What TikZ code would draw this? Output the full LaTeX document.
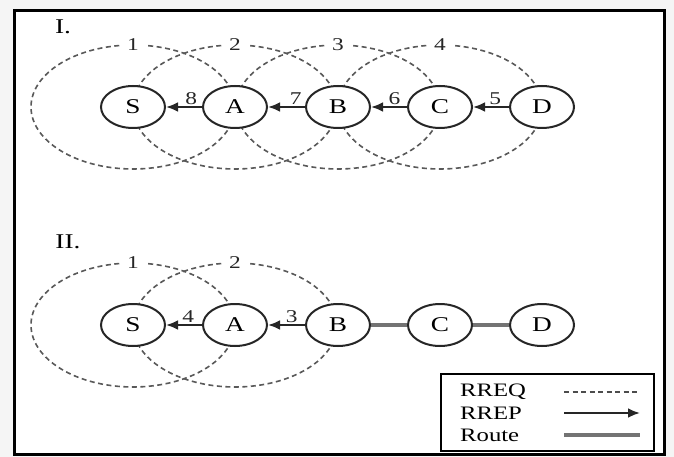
\documentclass[tikz,border=0pt]{standalone}
\usepackage{fontspec}
\setmainfont{Liberation Serif}[FakeStretch=1.3]
\usetikzlibrary{shapes.geometric,arrows.meta,backgrounds}
\begin{document}
\begin{tikzpicture}[x=1pt,y=-1pt,
  nd/.style={ellipse,draw=black!85,line width=2pt,fill=white,minimum width=64pt,minimum height=42pt,inner sep=0pt,font=\fontsize{21}{21}\selectfont},
  rng/.style={draw=black!65,line width=1.6pt,dash pattern=on 5pt off 3.5pt},
  rnglab/.style={fill=white,inner xsep=6pt,inner ysep=1pt,font=\fontsize{18}{18}\selectfont,text=black!85},
  rrep/.style={draw=black!85,line width=2.6pt,-{Latex[length=12pt,width=10pt]}},
  num/.style={font=\fontsize{18}{18}\selectfont,inner sep=1pt,text=black!85},
  route/.style={draw=black!55,line width=3.2pt},
  sec/.style={font=\fontsize{21}{21}\selectfont},
  legtxt/.style={font=\fontsize{19}{19}\selectfont,anchor=west,inner sep=0pt},
  legbox/.style={draw,line width=2.2pt,minimum width=213pt,minimum height=77pt,anchor=north west,inner sep=0pt},
  frame/.style={draw,line width=2.8pt,minimum width=650pt,minimum height=444pt,anchor=north west,inner sep=0pt}
]
\useasboundingbox (0,0) rectangle (674,457);

\node[frame] (fr) at (13,9) {};

% ---------- Part I ----------
\node[sec] (secI) at (63,27) {I.};
\node[nd] (S1) at (133,107) {S};
\node[nd] (A1) at (235,107) {A};
\node[nd] (B1) at (338,107) {B};
\node[nd] (C1) at (440,107) {C};
\node[nd] (D1) at (542,107) {D};

\node[rnglab] (r1) at (133,45) {1};
\node[rnglab] (r2) at (235,45) {2};
\node[rnglab] (r3) at (338,45) {3};
\node[rnglab] (r4) at (440,45) {4};

\draw[rrep] (A1) -- (S1) node[num,above,pos=0.3] (n8) {8};
\draw[rrep] (B1) -- (A1) node[num,above,pos=0.25] (n7) {7};
\draw[rrep] (C1) -- (B1) node[num,above,pos=0.35] (n6) {6};
\draw[rrep] (D1) -- (C1) node[num,above,pos=0.38] (n5) {5};

% ---------- Part II ----------
\node[sec] (secII) at (68,242) {II.};
\node[nd] (S2) at (133,325) {S};
\node[nd] (A2) at (235,325) {A};
\node[nd] (B2) at (338,325) {B};
\node[nd] (C2) at (440,325) {C};
\node[nd] (D2) at (542,325) {D};

\node[rnglab] (q1) at (133,263) {1};
\node[rnglab] (q2) at (235,263) {2};

\draw[rrep] (A2) -- (S2) node[num,above,pos=0.38] (n4) {4};
\draw[rrep] (B2) -- (A2) node[num,above,pos=0.36] (n3) {3};
\draw[route] (B2) -- (C2);
\draw[route] (C2) -- (D2);

% ---------- Range ellipses (behind) ----------
\begin{pgfonlayer}{background}
  \fill[gray!8] (0,0) rectangle (674,457);
  \fill[white] (13,9) rectangle (663,453);
  \foreach \n in {S1,A1,B1,C1,S2,A2}
    \draw[rng] (\n.center) ellipse [x radius=102pt, y radius=62pt];
\end{pgfonlayer}

% ---------- Legend ----------
\node[legbox] (leg) at (440,373) {};
\node[legtxt] (t1) at (460,392) {RREQ};
\node[legtxt] (t2) at (460,413) {RREP};
\node[legtxt] (t3) at (460,435) {Route};
\coordinate (a1) at (564,392); \coordinate (b1) at (640,392);
\coordinate (a2) at (564,413); \coordinate (b2) at (640,413);
\coordinate (a3) at (564,435); \coordinate (b3) at (640,435);
\draw[rng,draw=black!70] (a1) -- (b1);
\draw[rrep] (a2) -- (b2);
\draw[route] (a3) -- (b3);
\end{tikzpicture}
\end{document}
